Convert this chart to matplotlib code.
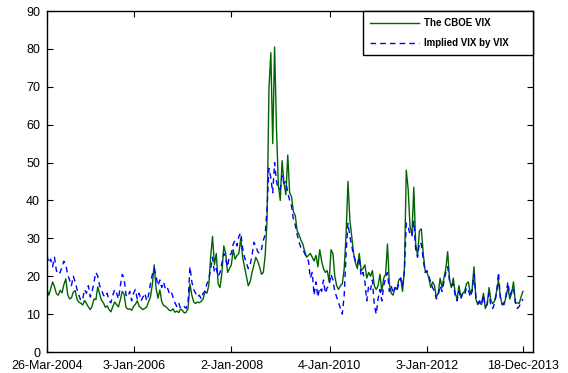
import numpy as np
import pandas as pd
import matplotlib
matplotlib.use('Agg')
import matplotlib.pyplot as plt

plt.rcParams['font.family'] = ['Liberation Sans', 'DejaVu Sans']

# Période couverte (une valeur toutes les ~2 semaines)
date_debut = '2004-03-26'
date_fin = '2013-12-18'

# VIX du CBOE
vix_cboe = [
    16.5, 15.0, 16.8, 18.5, 17.2, 15.4, 15.0, 16.3, 15.6, 17.8, 19.3, 15.2, 14.0, 14.3, 15.8, 16.2, 13.9, 13.1, 12.9, 12.4,  # 2004
    13.6, 12.8, 11.9, 11.2, 12.1, 14.0, 13.8, 17.2, 15.3, 13.6, 13.0, 11.8, 12.2, 11.2, 10.6, 12.0, 13.2, 12.5, 11.9, 13.8, 16.0, 15.2, 11.8, 11.3, 11.4, 11.0,  # 2005
    12.0, 12.6, 13.5, 12.1, 11.6, 11.2, 11.5, 11.9, 13.2, 14.5, 17.8, 23.0, 16.8, 14.2, 16.4, 13.3, 12.3, 12.0, 11.6, 11.0, 10.9, 11.4, 10.5, 10.8, 10.4, 11.3,  # 2006
    11.0, 10.3, 10.5, 11.5, 18.0, 15.0, 13.2, 12.8, 13.2, 13.0, 13.4, 14.0, 16.0, 15.5, 17.5, 25.0, 30.5, 23.0, 26.0, 18.0, 17.0, 21.0, 28.0, 26.0, 21.0, 22.0,  # 2007
    23.0, 27.0, 24.5, 25.5, 26.0, 30.0, 25.0, 22.5, 20.0, 17.5, 18.5, 21.0, 23.0, 25.0, 24.0, 22.5, 20.5, 21.0, 25.5, 35.0, 69.5, 79.0, 55.0, 80.5, 59.0, 44.0,  # 2008
    40.0, 50.5, 44.5, 41.5, 52.0, 42.0, 41.0, 37.0, 36.0, 32.0, 31.0, 29.5, 28.5, 26.5, 25.0, 25.5, 26.0, 25.0, 24.0, 25.5, 22.5, 27.0, 24.0, 22.0, 21.0, 21.5,  # 2009
    18.5, 27.0, 26.0, 20.0, 17.5, 16.5, 17.5, 18.0, 22.0, 31.0, 45.0, 35.0, 30.5, 26.0, 23.5, 22.0, 26.0, 21.5, 22.0, 23.0, 19.5, 21.0, 20.0, 21.5, 17.5, 16.5,  # 2010
    17.5, 20.5, 16.0, 19.5, 20.5, 28.5, 18.0, 15.5, 15.0, 17.0, 16.5, 19.0, 19.5, 16.0, 21.5, 48.0, 43.0, 33.0, 31.0, 43.5, 28.5, 25.5, 32.0, 32.5, 26.0, 21.5,  # 2011
    21.0, 19.5, 17.0, 18.5, 17.5, 14.5, 15.5, 19.5, 17.0, 19.5, 22.0, 26.5, 19.0, 17.0, 19.5, 15.5, 14.0, 17.5, 14.5, 15.5, 16.0, 18.0, 18.5, 15.5, 16.5, 22.5,  # 2012
    14.0, 12.5, 13.0, 12.5, 15.5, 11.5, 12.7, 17.0, 13.5, 12.8, 13.5, 16.0, 18.9, 14.5, 12.5, 12.5, 14.5, 17.0, 14.0, 15.5, 18.5, 13.0, 13.0, 12.8, 14.5, 16.0,  # 2013
]

# VIX implicite
vix_implicite = [
    25.5, 23.5, 24.5, 22.5, 25.0, 21.5, 20.5, 21.0, 22.5, 24.0, 23.0, 20.5, 19.0, 17.5, 20.0, 18.5, 16.5, 15.0, 13.5, 14.0,  # 2004
    16.5, 15.5, 17.5, 14.5, 16.0, 18.5, 21.0, 20.0, 17.5, 16.5, 15.0, 14.5, 15.5, 13.5, 13.0, 15.0, 16.5, 15.5, 14.0, 17.5, 20.5, 19.5, 15.0, 14.5, 16.0, 13.5,  # 2005
    15.5, 16.5, 14.0, 15.5, 13.5, 14.5, 15.5, 13.5, 15.0, 18.0, 20.5, 22.0, 20.0, 17.5, 19.0, 17.0, 18.5, 16.5, 17.0, 15.5, 16.0, 14.5, 13.0, 12.0, 13.0, 11.5,  # 2006
    11.5, 12.0, 11.5, 13.0, 22.5, 18.5, 16.5, 15.5, 14.5, 15.0, 14.0, 15.5, 16.0, 18.0, 19.0, 22.0, 25.0, 21.0, 22.0, 20.0, 21.0, 23.5, 26.0, 24.5, 22.5, 25.5,  # 2007
    26.0, 28.5, 29.5, 28.0, 30.5, 31.5, 27.5, 25.0, 23.5, 22.0, 23.0, 25.5, 29.0, 28.0, 26.5, 26.0, 27.0, 29.5, 31.0, 38.0, 48.5, 46.0, 42.0, 50.0, 45.0, 43.0,  # 2008
    43.0, 46.5, 44.5, 45.0, 42.0, 40.0, 38.5, 35.0, 33.5, 31.0, 29.0, 27.5, 27.0, 26.0, 25.0, 24.0, 19.5, 21.0, 15.0, 18.5, 14.5, 17.0, 16.0, 19.0, 15.5, 17.0,  # 2009
    17.5, 20.5, 19.0, 16.0, 14.5, 13.0, 11.5, 10.0, 15.0, 26.0, 34.0, 30.5, 28.0, 25.5, 24.0, 23.0, 25.0, 20.0, 21.0, 18.5, 13.5, 17.5, 16.5, 19.0, 12.5, 10.0,  # 2010
    14.0, 16.5, 13.5, 17.5, 19.5, 21.0, 16.0, 17.5, 15.5, 17.0, 16.0, 18.0, 19.5, 17.5, 21.5, 34.0, 33.0, 31.0, 30.5, 34.5, 27.0, 25.0, 29.0, 28.5, 24.5, 21.0,  # 2011
    21.5, 20.0, 18.5, 17.0, 16.0, 14.0, 15.0, 17.5, 16.0, 18.5, 21.0, 22.5, 19.0, 17.5, 18.0, 15.0, 13.5, 16.0, 14.0, 15.5, 15.0, 17.0, 16.5, 14.5, 16.0, 20.5,  # 2012
    14.5, 13.0, 13.5, 12.5, 15.0, 12.0, 12.5, 15.5, 12.0, 11.5, 13.0, 15.5, 21.0, 14.5, 12.5, 13.0, 15.0, 18.5, 15.0, 16.0, 17.0, 13.0, 11.5, 12.0, 13.0, 14.0,  # 2013
]

# Graduations de l'axe des dates
ticks_dates = ['2004-03-26', '2006-01-03', '2008-01-02', '2010-01-04', '2012-01-03', '2013-12-18']
ticks_labels = ['26-Mar-2004', '3-Jan-2006', '2-Jan-2008', '4-Jan-2010', '3-Jan-2012', '18-Dec-2013']

dates = pd.date_range(date_debut, date_fin, periods=len(vix_cboe))

fig = plt.figure(figsize=(5.68, 3.73), dpi=100)
ax = fig.add_axes([0.0827, 0.0563, 0.8556, 0.9142])

ax.plot(dates, vix_cboe, color='#006400', linewidth=1.0, label='The CBOE VIX')
ax.plot(dates, vix_implicite, color='blue', linewidth=1.0, dashes=(4, 3), label='Implied VIX by VIX')

ax.set_xlim(pd.Timestamp('2004-03-26'), pd.Timestamp('2014-03-03'))
ax.set_ylim(0, 90)
ax.set_yticks(np.arange(0, 91, 10))
ax.set_xticks(pd.to_datetime(ticks_dates))
ax.set_xticklabels(ticks_labels)

ax.tick_params(direction='in', top=True, right=True, length=4, width=0.8, labelsize=9)
ax.tick_params(axis='x', pad=6)
ax.tick_params(axis='y', pad=5)
for s in ax.spines.values():
    s.set_linewidth(1.0)

leg = ax.legend(loc='upper right', bbox_to_anchor=(0.65, 0.0, 0.35, 1.0), mode='expand',
                borderaxespad=0, fancybox=False, framealpha=1, edgecolor='black',
                prop={'size': 7, 'weight': 'bold'}, handlelength=5, handletextpad=0.5,
                labelspacing=1.0, borderpad=0.75)
leg.get_frame().set_linewidth(1.0)

fig.savefig('out.png', dpi=100)
